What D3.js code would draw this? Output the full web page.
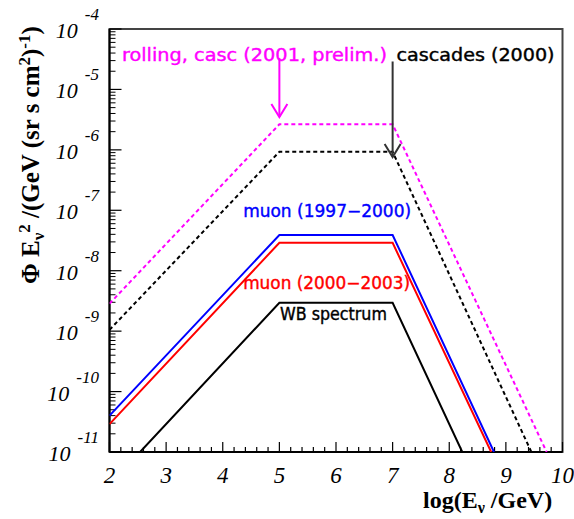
<!DOCTYPE html>
<html>
<head>
<meta charset="utf-8">
<script src="https://cdn.jsdelivr.net/npm/d3@7"></script>
<style>
  body { margin: 0; background: #fff; }
  svg { display: block; }
</style>
</head>
<body>
<svg id="chart" width="574" height="519"></svg>
<script>
// series: log10(E/GeV) and E^2 flux in GeV / (sr s cm^2)
const rollingLogE = [2, 5, 7, 9.72];
const rollingFlux = [2.85e-9, 2.65e-6, 2.65e-6, 1e-11];
const cascLogE = [2, 5, 7, 9.45];
const cascFlux = [1.05e-9, 9.3e-7, 9.3e-7, 1e-11];
const muon97LogE = [2, 5, 7, 8.79];
const muon97Flux = [4e-11, 3.9e-8, 3.9e-8, 1e-11];
const muon00LogE = [2, 5, 7, 8.74];
const muon00Flux = [2.9e-11, 2.9e-8, 2.9e-8, 1e-11];
const wbLogE = [2.54, 5, 7, 8.23];
const wbFlux = [1e-11, 2.95e-9, 2.95e-9, 1e-11];

const xTicks = [2, 3, 4, 5, 6, 7, 8, 9, 10];
const yExponents = [-4, -5, -6, -7, -8, -9, -10, -11];

const labelTexts = ["rolling, casc (2001, prelim.)", "cascades (2000)",
    "muon (1997\u22122000)", "muon (2000\u22122003)", "WB spectrum"];

let svg = d3.select("#chart");
let pLeft = 109.5, pRight = 562.5, pTop = 29, pBottom = 452;

let x = d3.scaleLinear().domain([2, 10]).range([pLeft, pRight]);
let y = d3.scaleLog().domain([1e-11, 1e-4]).range([pBottom, pTop]);

svg.append("defs").append("clipPath").attr("id", "plotclip")
    .append("rect")
    .attr("x", pLeft).attr("y", pTop)
    .attr("width", pRight - pLeft).attr("height", pBottom - pTop);

// frame
svg.append("rect")
    .attr("x", pLeft).attr("y", pTop)
    .attr("width", pRight - pLeft).attr("height", pBottom - pTop)
    .attr("fill", "none")
    .attr("stroke", "#444")
    .attr("stroke-width", 2);

// x axis ticks (major at integers, minor every 0.2)
let xMinor = d3.range(2, 10.001, 0.2);
svg.append("g").selectAll("line")
    .data(xMinor)
    .join("line")
    .attr("x1", d => x(d)).attr("x2", d => x(d))
    .attr("y1", pBottom)
    .attr("y2", d => Math.abs(d - Math.round(d)) < 1e-6 ? pBottom - 10 : pBottom - 5)
    .attr("stroke", "black").attr("stroke-width", 1.2);

svg.append("g").selectAll("text")
    .data(xTicks)
    .join("text")
    .attr("x", d => x(d))
    .attr("y", 483)
    .attr("text-anchor", "middle")
    .attr("font-family", "Liberation Serif")
    .attr("font-style", "italic")
    .attr("font-size", 23)
    .text(d => d);

// y axis ticks (log)
let yMinor = [];
for (let e = -11; e < -4; e++)
    for (let m = 2; m <= 9; m++) yMinor.push(m * Math.pow(10, e));
svg.append("g").selectAll("line")
    .data(yMinor)
    .join("line")
    .attr("x1", pLeft).attr("x2", pLeft + 6)
    .attr("y1", d => y(d)).attr("y2", d => y(d))
    .attr("stroke", "black").attr("stroke-width", 1);
svg.append("g").selectAll("line")
    .data(yExponents)
    .join("line")
    .attr("x1", pLeft).attr("x2", pLeft + 12)
    .attr("y1", d => y(Math.pow(10, d))).attr("y2", d => y(Math.pow(10, d)))
    .attr("stroke", "black").attr("stroke-width", 1.2);

let yLab = svg.append("g").selectAll("text")
    .data(yExponents)
    .join("text")
    .attr("x", 99)
    .attr("y", d => y(Math.pow(10, d)) + 9)
    .attr("text-anchor", "end")
    .attr("font-family", "Liberation Serif")
    .attr("font-style", "italic")
    .attr("font-size", 22);
yLab.append("tspan").text("10");
yLab.append("tspan").attr("dx", 7).attr("dy", -18).attr("font-size", 17).text(d => d);

// axis lines
svg.append("line").attr("x1", pLeft).attr("x2", pLeft).attr("y1", pTop).attr("y2", pBottom)
    .attr("stroke", "black").attr("stroke-width", 2);
svg.append("line").attr("x1", pLeft).attr("x2", pRight).attr("y1", pBottom).attr("y2", pBottom)
    .attr("stroke", "black").attr("stroke-width", 2);

// curves
let series = [
    {logE: rollingLogE, flux: rollingFlux, color: "#ff00ff", dash: "4,3"},
    {logE: cascLogE, flux: cascFlux, color: "black", dash: "4,3"},
    {logE: muon97LogE, flux: muon97Flux, color: "#0000ff", dash: null},
    {logE: muon00LogE, flux: muon00Flux, color: "#ff0000", dash: null},
    {logE: wbLogE, flux: wbFlux, color: "black", dash: null}
];
let line = d3.line().x(p => x(p[0])).y(p => y(p[1]));
let plot = svg.append("g").attr("clip-path", "url(#plotclip)");
plot.selectAll(".curve")
    .data(series)
    .join("path")
    .attr("class", "curve")
    .attr("d", s => line(d3.zip(s.logE, s.flux)))
    .attr("fill", "none")
    .attr("stroke", s => s.color)
    .attr("stroke-width", 2)
    .attr("stroke-dasharray", s => s.dash);

// arrows pointing at the cascade curves
let arrows = [
    {x: 5, from: 3.3e-5, to: 3.5e-6, color: "#ff00ff"},
    {x: 7, from: 2.9e-5, to: 7.6e-7, color: "#333"}
];
arrows.forEach(a => {
    let ax = x(a.x), y0 = y(a.from), y1 = y(a.to);
    svg.append("line").attr("x1", ax).attr("x2", ax).attr("y1", y0).attr("y2", y1)
        .attr("stroke", a.color).attr("stroke-width", 2);
    svg.append("path")
        .attr("d", `M${ax - 8},${y1 - 13}L${ax},${y1}L${ax + 8},${y1 - 13}`)
        .attr("fill", "none").attr("stroke", a.color).attr("stroke-width", 2);
});

// labels
let labelPos = [
    {x: 2.22, f: 2.9e-5, w: 265, color: "#ff00ff"},
    {x: 7.07, f: 2.9e-5, w: 158, color: "black"},
    {x: 4.36, f: 7.8e-8, w: 168, color: "#0000ff"},
    {x: 4.36, f: 5.0e-9, w: 167, color: "#ff0000"},
    {x: 5.01, f: 1.55e-9, w: 107, color: "black"}
];
svg.append("g").selectAll("text")
    .data(labelTexts)
    .join("text")
    .attr("x", (d, i) => x(labelPos[i].x))
    .attr("y", (d, i) => y(labelPos[i].f))
    .attr("font-family", "DejaVu Sans")
    .attr("font-size", 17)
    .attr("fill", (d, i) => labelPos[i].color)
    .attr("stroke", (d, i) => labelPos[i].color)
    .attr("stroke-width", 0.4)
    .attr("textLength", (d, i) => labelPos[i].w)
    .attr("lengthAdjust", "spacingAndGlyphs")
    .text(d => d);

// axis titles
let xt = svg.append("text")
    .attr("x", 423).attr("y", 508)
    .attr("font-family", "Liberation Serif")
    .attr("font-weight", "bold")
    .attr("font-size", 24);
xt.append("tspan").text("log(E");
xt.append("tspan").attr("dy", 5).attr("font-size", 16).text("\u03bd");
xt.append("tspan").attr("dy", -5).text(" /GeV)");

let yt = svg.append("text")
    .attr("transform", "translate(39,284) rotate(-90)")
    .attr("font-family", "Liberation Serif")
    .attr("font-weight", "bold")
    .attr("font-size", 25);
yt.append("tspan").text("\u03a6 E");
yt.append("tspan").attr("dy", 5).attr("font-size", 17).text("\u03bd");
yt.append("tspan").attr("dy", -14).attr("font-size", 17).text("2");
yt.append("tspan").attr("dy", 9).text(" /(GeV (sr s cm");
yt.append("tspan").attr("dy", -9).attr("font-size", 17).text("2");
yt.append("tspan").attr("dy", 9).text(")");
yt.append("tspan").attr("dy", -9).attr("font-size", 17).text("-1");
yt.append("tspan").attr("dy", 9).text(")");
</script>
</body>
</html>
